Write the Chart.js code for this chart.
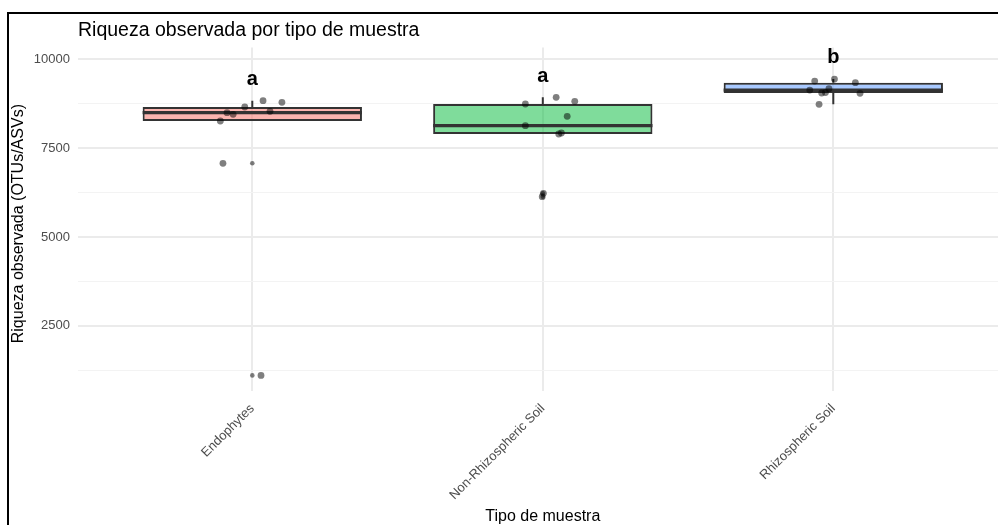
<!DOCTYPE html>
<html>
<head>
<meta charset="utf-8">
<script src="https://cdn.jsdelivr.net/npm/chart.js@4"></script>
<style>
  html, body { margin: 0; padding: 0; background: #fff; }
  body { width: 998px; height: 525px; overflow: hidden; position: relative; }
  #frame {
    position: absolute; left: 7px; top: 12px;
    width: 1100px; height: 600px;
    border-left: 2px solid #000; border-top: 2px solid #000;
  }
  #chart { position: absolute; left: 0; top: 0; }
</style>
</head>
<body>
<div id="frame"><canvas id="chart" width="1002" height="520"></canvas></div>
<script>
// Sample types on the x axis
const categories = ['Endophytes', 'Non-Rhizospheric Soil', 'Rhizospheric Soil'];

// Observed richness per sample, one array per sample type
const endophytesValues = [8258, 8492, 8446, 8652, 8829, 8783, 8531, 7070, 1110];
const nonRhizoValues   = [8736, 8924, 8812, 8390, 8127, 7921, 7893, 6227, 6133];
const rhizoValues      = [9382, 9438, 9335, 9129, 9045, 9060, 9166, 9036, 8727];

// Horizontal jitter of each sample point (in category units)
const endophytesJitter = [-0.110, -0.087, -0.066, -0.026, 0.037, 0.102, 0.061, -0.101, 0.030];
const nonRhizoJitter   = [-0.060, 0.046, 0.110, 0.084, -0.060, 0.064, 0.055, 0.002, -0.002];
const rhizoJitter      = [-0.064, 0.004, 0.076, -0.081, -0.040, -0.027, -0.015, 0.092, -0.049];

// Box statistics per sample type
const whiskerLow  = [8258, 7893, 8727];
const quartile1   = [8258, 7893, 9045];
const medians     = [8492, 8127, 9129];
const quartile3   = [8652, 8736, 9335];
const whiskerHigh = [8829, 8924, 9438];
const outliers    = [[7070, 1110], [6227, 6133], []];

// Significance letters and the value at which each sits
const sigLetters = ['a', 'a', 'b'];
const sigValues  = [9270, 9362, 9888];

// Axis range and ticks
const yMin = 671, yMax = 10327;
const yMajorTicks = [2500, 5000, 7500, 10000];
const yMinorTicks = [1250, 3750, 6250, 8750];

const boxFills = ['rgba(248,118,109,0.55)', 'rgba(0,186,56,0.5)', 'rgba(97,156,255,0.55)'];
const BOX_WIDTH = 0.755;
const DARK = '#333333';
const POINT = 'rgba(0,0,0,0.5)';

Chart.defaults.font.family = '"Liberation Sans", Arial, sans-serif';

const groupValues = [endophytesValues, nonRhizoValues, rhizoValues];
const groupJitter = [endophytesJitter, nonRhizoJitter, rhizoJitter];
const isMajor = v => yMajorTicks.includes(v);

const datasets = [];

// jittered sample points (drawn on top)
datasets.push({
  type: 'scatter', order: 0,
  data: groupValues.flatMap((vals, g) => vals.map((v, k) => ({ x: g + 1 + groupJitter[g][k], y: v }))),
  backgroundColor: POINT, borderWidth: 0, pointRadius: 3.4, pointHoverRadius: 3.4
});

// boxplot outliers at the group centre
datasets.push({
  type: 'scatter', order: 1,
  data: outliers.flatMap((vals, g) => vals.map(v => ({ x: g + 1, y: v }))),
  backgroundColor: POINT, borderWidth: 0, pointRadius: 2.3, pointHoverRadius: 2.3
});

// medians and whiskers
categories.forEach((c, g) => {
  datasets.push({
    type: 'line', order: 2,
    data: [{ x: g + 1 - BOX_WIDTH / 2, y: medians[g] }, { x: g + 1 + BOX_WIDTH / 2, y: medians[g] }],
    borderColor: DARK, borderWidth: 3.2, pointRadius: 0, fill: false
  });
  datasets.push({
    type: 'line', order: 3,
    data: [{ x: g + 1, y: quartile3[g] }, { x: g + 1, y: whiskerHigh[g] }],
    borderColor: DARK, borderWidth: 2, pointRadius: 0, fill: false
  });
  datasets.push({
    type: 'line', order: 3,
    data: [{ x: g + 1, y: whiskerLow[g] }, { x: g + 1, y: quartile1[g] }],
    borderColor: DARK, borderWidth: 2, pointRadius: 0, fill: false
  });
});

// interquartile boxes
datasets.push({
  type: 'bar', order: 4,
  data: categories.map((c, g) => ({ x: g + 1, y: [quartile1[g], quartile3[g]] })),
  backgroundColor: boxFills, borderColor: DARK, borderWidth: 2, borderSkipped: false,
  barPercentage: 1, categoryPercentage: BOX_WIDTH
});

// significance letters above each group
const letterPlugin = {
  id: 'sigLetters',
  afterDatasetsDraw(chart) {
    const { ctx, scales: { x, y } } = chart;
    ctx.save();
    ctx.font = 'bold 20px "Liberation Sans", Arial, sans-serif';
    ctx.fillStyle = '#000';
    ctx.textAlign = 'center';
    ctx.textBaseline = 'alphabetic';
    sigLetters.forEach((t, g) => ctx.fillText(t, x.getPixelForValue(g + 1), y.getPixelForValue(sigValues[g])));
    ctx.restore();
  }
};

new Chart(document.getElementById('chart'), {
  type: 'bar',
  data: { datasets },
  plugins: [letterPlugin],
  options: {
    responsive: false, animation: false,
    layout: { padding: 0 },
    plugins: {
      legend: { display: false },
      tooltip: { enabled: false },
      title: {
        display: true, text: 'Riqueza observada por tipo de muestra',
        align: 'start', fullSize: false, color: '#000',
        font: { size: 19.5, weight: 'normal' },
        padding: { top: 4.8, bottom: 5.2 }
      }
    },
    scales: {
      x: {
        type: 'linear', min: 0.4, max: 3.6, offset: false,
        afterBuildTicks: s => { s.ticks = categories.map((c, i) => ({ value: i + 1 })); },
        afterFit: s => { s.height = 143; },
        ticks: {
          callback: (v, i) => categories[i],
          minRotation: 45, maxRotation: 45, autoSkip: false,
          color: '#4d4d4d', font: { size: 13 }, padding: 10
        },
        grid: { color: '#ebebeb', lineWidth: 2, drawTicks: false, offset: false },
        border: { display: false },
        title: { display: true, text: 'Tipo de muestra', color: '#000', font: { size: 16 }, padding: { top: 0, bottom: 7.4 } }
      },
      y: {
        type: 'linear', min: yMin, max: yMax,
        afterBuildTicks: s => {
          s.ticks = [...yMajorTicks, ...yMinorTicks].sort((a, b) => a - b).map(v => ({ value: v }));
        },
        afterFit: s => { s.width = 69; },
        ticks: {
          autoSkip: false,
          callback: v => (isMajor(v) ? String(v) : ''),
          color: '#4d4d4d', font: { size: 13 }, padding: 8
        },
        grid: {
          drawTicks: false,
          color: c => (c.tick && isMajor(c.tick.value) ? '#ebebeb' : '#f3f3f3'),
          lineWidth: c => (c.tick && isMajor(c.tick.value) ? 2 : 1)
        },
        border: { display: false },
        title: { display: true, text: 'Riqueza observada (OTUs/ASVs)  ', color: '#000', font: { size: 16 }, padding: 0 }
      }
    }
  }
});
</script>
</body>
</html>
